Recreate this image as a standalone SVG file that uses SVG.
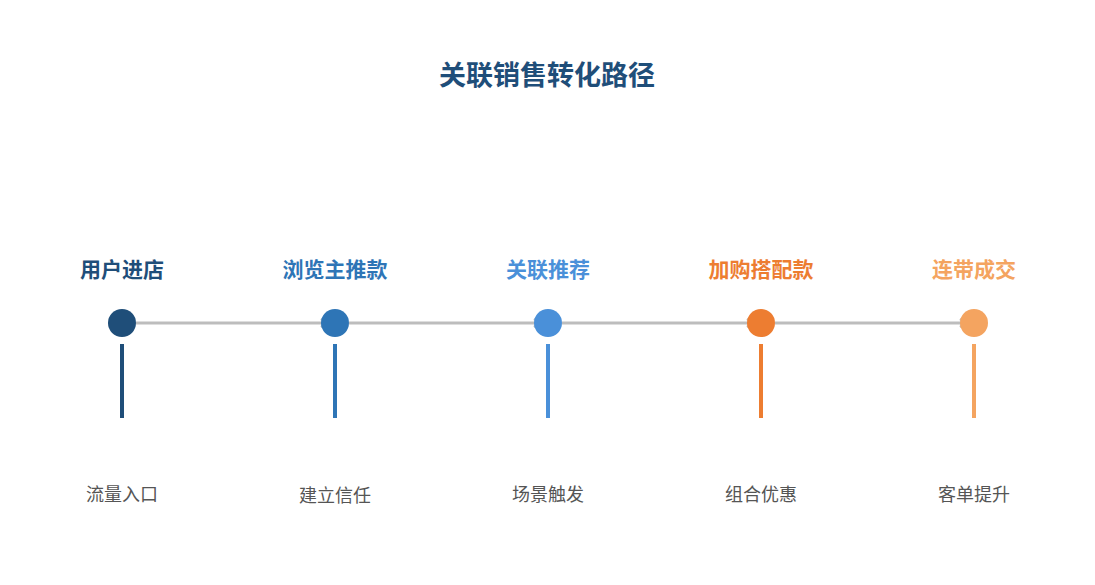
<svg xmlns="http://www.w3.org/2000/svg" width="1095" height="585" viewBox="0 0 1095 585">
<style>
text{font-family:"Noto Sans CJK SC",sans-serif;text-anchor:middle}
.t{font-size:27px;font-weight:bold;fill:#1f4e79}
.h{font-size:21px;font-weight:bold}
.s{font-size:18px;fill:#555}
.c{fill:none;stroke:#bdbdbd;stroke-width:3}
</style>
<defs><marker id="a" markerWidth="10" markerHeight="10" refX="8" refY="5" orient="auto" markerUnits="userSpaceOnUse"><path d="M2,1 L8,5 L2,9" fill="none" stroke="#bdbdbd" stroke-width="2.5"/></marker></defs>
<rect width="1095" height="585" fill="#fff"/>
<text class="t" x="547" y="85">关联销售转化路径</text>
<g id="connectors">
<line class="c" x1="136" y1="323" x2="327" y2="323" marker-end="url(#a)"/>
<line class="c" x1="349" y1="323" x2="540" y2="323" marker-end="url(#a)"/>
<line class="c" x1="562" y1="323" x2="753" y2="323" marker-end="url(#a)"/>
<line class="c" x1="775" y1="323" x2="966" y2="323" marker-end="url(#a)"/>
</g>
<g id="n1"><text class="h" x="122" y="277" fill="#1f4e79">用户进店</text><circle cx="122" cy="323" r="14" fill="#1f4e79"/><rect x="120" y="344" width="4" height="74" fill="#1f4e79"/><text class="s" x="122" y="501">流量入口</text></g>
<g id="n2"><text class="h" x="335" y="277" fill="#2e75b6">浏览主推款</text><circle cx="335" cy="323" r="14" fill="#2e75b6"/><rect x="333" y="344" width="4" height="74" fill="#2e75b6"/><text class="s" x="335" y="502">建立信任</text></g>
<g id="n3"><text class="h" x="548" y="277" fill="#4a90d9">关联推荐</text><circle cx="548" cy="323" r="14" fill="#4a90d9"/><rect x="546" y="344" width="4" height="74" fill="#4a90d9"/><text class="s" x="548" y="501">场景触发</text></g>
<g id="n4"><text class="h" x="761" y="277" fill="#ed7d31">加购搭配款</text><circle cx="761" cy="323" r="14" fill="#ed7d31"/><rect x="759" y="344" width="4" height="74" fill="#ed7d31"/><text class="s" x="761" y="501">组合优惠</text></g>
<g id="n5"><text class="h" x="974" y="277" fill="#f4a460">连带成交</text><circle cx="974" cy="323" r="14" fill="#f4a460"/><rect x="972" y="344" width="4" height="74" fill="#f4a460"/><text class="s" x="974" y="501">客单提升</text></g>
</svg>
